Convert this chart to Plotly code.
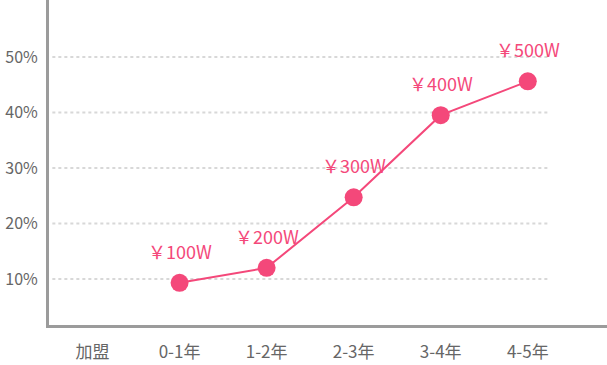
import plotly.graph_objects as go

categories = ["加盟", "0-1年", "1-2年", "2-3年", "3-4年", "4-5年"]
pct_values = [None, 9.3, 12.0, 24.7, 39.5, 45.6]
value_labels = ["", "￥100W", "￥200W", "￥300W", "￥400W", "￥500W"]
y_ticks = [10, 20, 30, 40, 50]
y_tick_text = ["10%", "20%", "30%", "40%", "50%"]

PINK = "#F4487A"
GRID = "#D8D8D8"
AXIS = "#9B9B9B"
FONT = "Noto Sans CJK SC"

fig = go.Figure()
fig.add_trace(go.Scatter(
    x=categories, y=pct_values, mode="lines+markers",
    line=dict(color=PINK, width=2),
    marker=dict(color=PINK, size=18),
    connectgaps=False, hoverinfo="skip", showlegend=False,
))

for c, v, t in zip(categories, pct_values, value_labels):
    if v is None:
        continue
    fig.add_annotation(x=c, y=v, text=t, showarrow=False, yshift=32,
                       font=dict(family=FONT, size=18, color=PINK))

for v in y_ticks:
    fig.add_shape(type="line", xref="x domain", yref="y", x0=0.006, x1=0.898,
                  y0=v, y1=v, line=dict(color=GRID, width=2, dash="dot"), layer="below")

fig.update_layout(
    width=607, height=365,
    margin=dict(l=49, r=0, t=0, b=40),
    paper_bgcolor="white", plot_bgcolor="white",
    font=dict(family=FONT, color="#666666", size=17),
    xaxis=dict(type="category", range=[-0.5, 5.91], showgrid=False, zeroline=False,
               showline=True, linecolor=AXIS, linewidth=3, ticks="", automargin=False,
               ticklabelstandoff=10, tickfont=dict(size=17, color="#666666")),
    yaxis=dict(range=[1.7, 60.25], showgrid=False, zeroline=False,
               showline=True, linecolor=AXIS, linewidth=3, ticks="", automargin=False,
               tickvals=y_ticks, ticktext=y_tick_text, ticklabelstandoff=5,
               tickfont=dict(size=16, color="#666666")),
)

fig.write_html("out.html", config={"displayModeBar": False},
               post_script="document.body.style.margin='0';")
